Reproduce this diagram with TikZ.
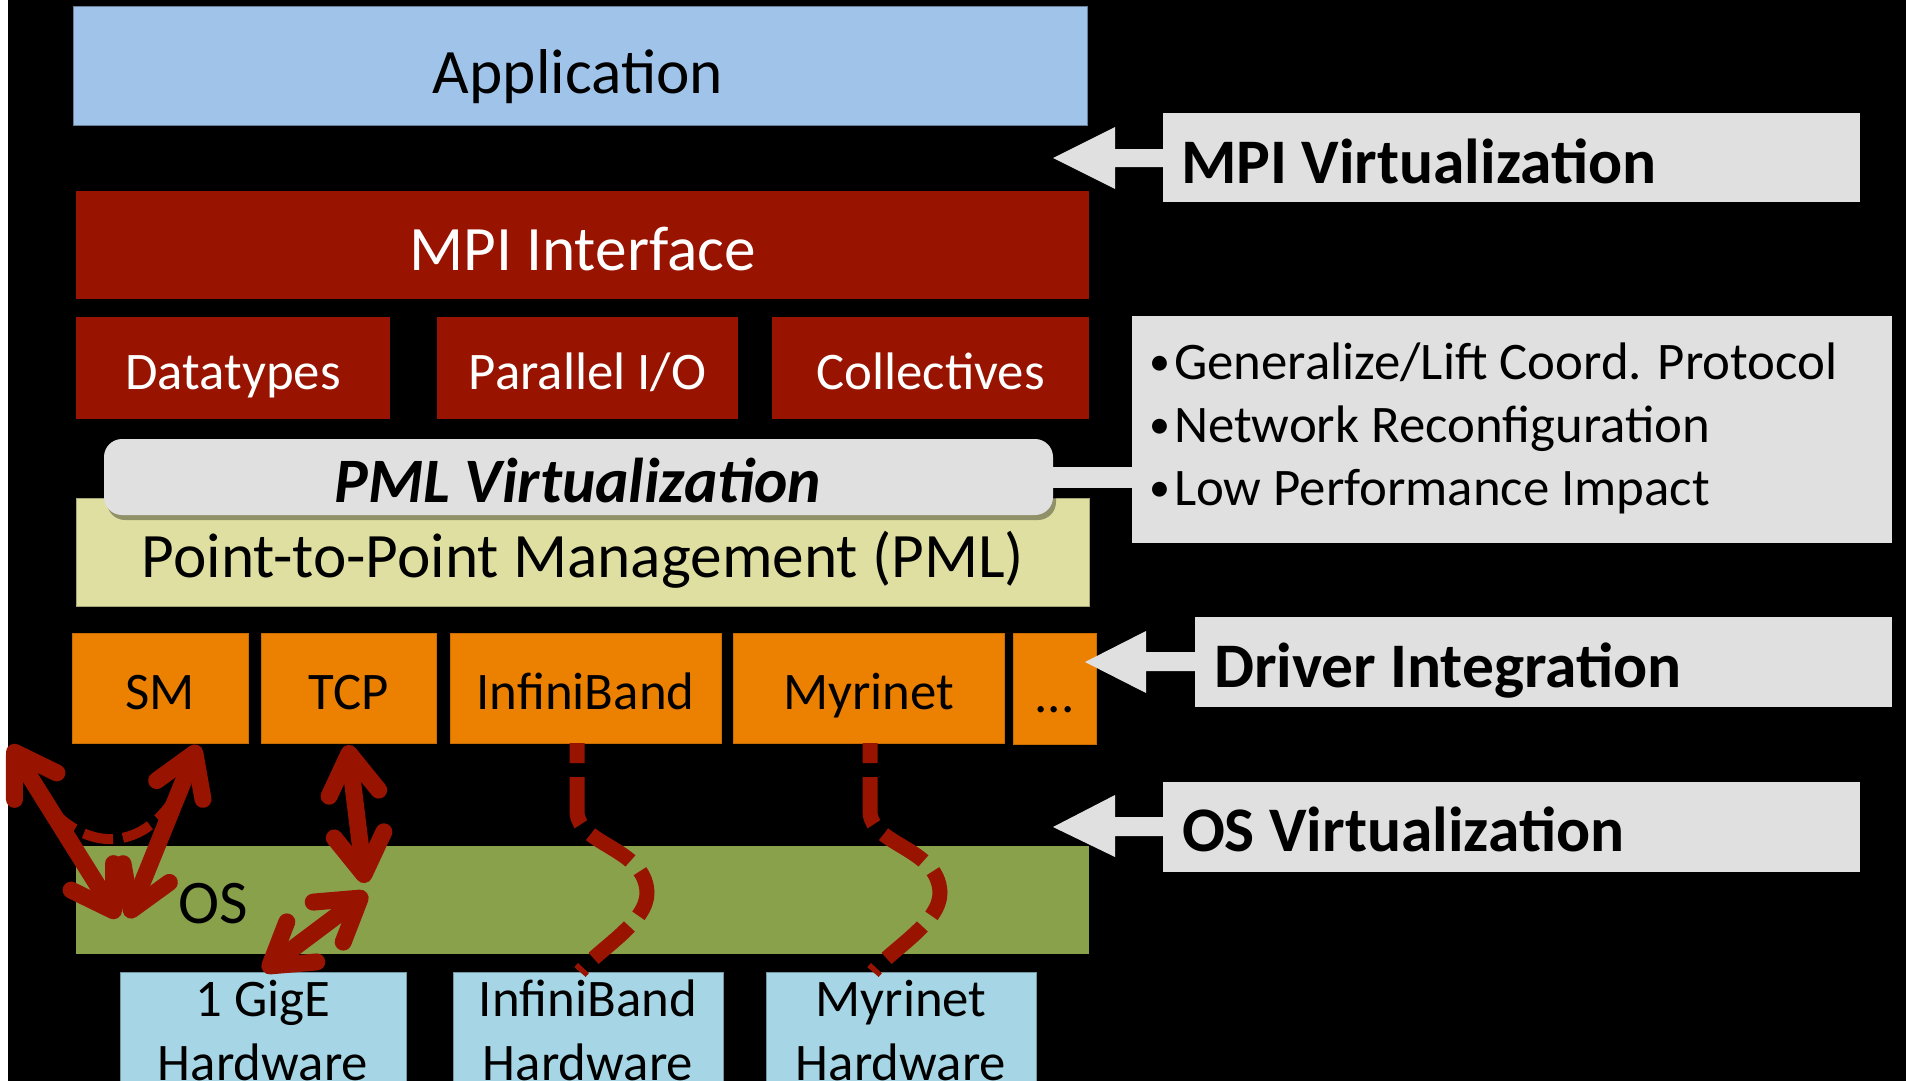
\documentclass[tikz,border=0pt]{standalone}
\usepackage{fontspec}
\setmainfont{Carlito}
\usetikzlibrary{arrows.meta}
\definecolor{appblue}{RGB}{159,195,233}
\definecolor{dkred}{RGB}{152,20,0}
\definecolor{pmlyel}{RGB}{222,223,160}
\definecolor{orng}{RGB}{236,128,0}
\definecolor{osgreen}{RGB}{138,161,76}
\definecolor{hwblue}{RGB}{166,214,229}
\definecolor{lgray}{RGB}{224,224,224}
\tikzset{
  boxn/.style={rectangle, inner sep=0pt, outer sep=0pt},
  lbl/.style={inner sep=0pt, outer sep=0pt, anchor=base},
  fbig/.style={font=\fontsize{63.3}{75}\selectfont},
  fmid/.style={font=\fontsize{52.8}{63}\selectfont},
  fbold/.style={font=\fontsize{63.5}{76}\selectfont\bfseries},
  fpv/.style={font=\fontsize{63.3}{75}\selectfont\bfseries\itshape},
  fbul/.style={font=\fontsize{42}{50}\selectfont},
  redbox/.style={boxn, fill=dkred},
  orbox/.style={boxn, fill=orng, draw=orng!85!black, line width=1pt},
  hwbox/.style={boxn, fill=hwblue, draw=hwblue!70!black, line width=1pt},
  graybox/.style={boxn, fill=lgray},
  dblarrow/.style={draw=dkred, line width=17pt, line cap=round,
    {Straight Barb[length=40pt,width=50pt,round]}-{Straight Barb[length=40pt,width=50pt,round]}},
  sdash/.style={draw=dkred, line width=15pt, dash pattern=on 48pt off 14pt, dash phase=28pt},
  udash/.style={draw=dkred, line width=10pt, dash pattern=on 30pt off 10pt},
  conn/.style={draw=lgray, line width=21pt}
}
\begin{document}
\begin{tikzpicture}[x=1pt,y=-1pt]
\useasboundingbox (0,0) rectangle (1906,1081);
\clip (0,0) rectangle (1906,1081);
\fill[black] (0,0) rectangle (1906,1081);
\fill[white] (0,0) rectangle (8,1081);

% main stack
\node[boxn, fill=appblue, draw=appblue!65!black, line width=1pt, minimum width=1014pt, minimum height=118pt] (app) at (580,66) {};
\node[redbox, minimum width=1013pt, minimum height=108pt] (mpi) at (582.5,245) {};
\node[redbox, minimum width=314pt, minimum height=102pt] (dt) at (233,368) {};
\node[redbox, minimum width=301pt, minimum height=102pt] (pio) at (587.5,368) {};
\node[redbox, minimum width=317pt, minimum height=102pt] (coll) at (930.5,368) {};
\node[boxn, fill=pmlyel, draw=pmlyel!75!black, line width=1pt, minimum width=1013pt, minimum height=108pt] (pml) at (582.5,552) {};

% pill
\fill[black, opacity=0.35, rounded corners=18pt] (107,444) rectangle (1056,520);
\node[boxn, fill=lgray, rounded corners=18pt, minimum width=949pt, minimum height=76pt] (pill) at (578.5,477) {};

% transports
\node[orbox, minimum width=176pt, minimum height=110pt] (sm) at (160,688) {};
\node[orbox, minimum width=175pt, minimum height=110pt] (tcp) at (348.5,688) {};
\node[orbox, minimum width=271pt, minimum height=110pt] (ib) at (585.5,688) {};
\node[orbox, minimum width=271pt, minimum height=110pt] (myr) at (868.5,688) {};
\node[orbox, minimum width=83pt, minimum height=111pt] (dots) at (1054.5,688.5) {};

% OS and hardware
\node[boxn, fill=osgreen, minimum width=1013pt, minimum height=108pt] (os) at (582.5,900) {};
\node[hwbox, minimum width=286pt, minimum height=128pt] (hwg) at (263,1036) {};
\node[hwbox, minimum width=270pt, minimum height=128pt] (hwib) at (588,1036) {};
\node[hwbox, minimum width=270pt, minimum height=128pt] (hwmy) at (901,1036) {};

% right callouts
\node[graybox, minimum width=697pt, minimum height=89pt] (cmpi) at (1511.5,157.5) {};
\node[graybox, minimum width=760pt, minimum height=227pt] (cbul) at (1512,429.5) {};
\node[graybox, minimum width=697pt, minimum height=90pt] (cdrv) at (1543.5,662) {};
\node[graybox, minimum width=697pt, minimum height=90pt] (cos) at (1511.5,827) {};

\fill[lgray] (1053,158) -- (1115,127) -- (1115,149) -- (cmpi.west |- 0,149) -- (cmpi.west |- 0,167) -- (1115,167) -- (1115,189) -- cycle;
\fill[lgray] (1085,662) -- (1146,631) -- (1146,652) -- (cdrv.west |- 0,652) -- (cdrv.west |- 0,671) -- (1146,671) -- (1146,693) -- cycle;
\fill[lgray] (1053,827) -- (1115,795) -- (1115,817) -- (cos.west |- 0,817) -- (cos.west |- 0,836) -- (1115,836) -- (1115,857) -- cycle;
\draw[conn] (pill.east) -- (pill.east -| cbul.west);

% texts
\node[lbl, fbig] (tapp) at (578,93) {Application};
\node[lbl, fbig, text=white] (tmpi) at (582.5,270) {MPI Interface};
\node[lbl, fmid, text=white] (tdt) at (233,389) {Datatypes};
\node[lbl, fmid, text=white] (tpio) at (587.5,389) {Parallel I/O};
\node[lbl, fmid, text=white] (tcoll) at (930.5,389) {Collectives};
\node[lbl, fpv] (tpv) at (578,502) {PML Virtualization};
\node[lbl, fbig] (tpml) at (583,577) {Point-to-Point Management (PML)};
\node[lbl, fmid] (tsm) at (160,709) {SM};
\node[lbl, fmid] (ttcp) at (348.5,709) {TCP};
\node[lbl, fmid] (tib) at (585.5,709) {InfiniBand};
\node[lbl, fmid] (tmyr) at (868.5,709) {Myrinet};
\node[lbl, fmid] (tdots) at (1054.5,712) {...};
\node[lbl, font=\fontsize{62}{74}\selectfont, anchor=base west] (tos) at (178,923) {OS};
\node[lbl, fmid] (thg1) at (263,1016) {1 GigE};
\node[lbl, fmid] (thg2) at (263,1080) {Hardware};
\node[lbl, fmid] (thi1) at (588,1016) {InfiniBand};
\node[lbl, fmid] (thi2) at (588,1080) {Hardware};
\node[lbl, fmid] (thm1) at (901,1016) {Myrinet};
\node[lbl, fmid] (thm2) at (901,1080) {Hardware};

\node[lbl, fbold, anchor=base west] (tcmpi) at (1181,183) {MPI Virtualization};
\node[lbl, fbold, anchor=base west] (tcdrv) at (1214,687) {Driver Integration};
\node[lbl, fbold, anchor=base west] (tcos) at (1182,851) {OS Virtualization};
\node[lbl, fbul, anchor=base west] (bd1) at (1149,375) {•};
\node[lbl, fmid, anchor=base west] (bt1) at (1174,379) {Generalize/Lift Coord. Protocol};
\node[lbl, fbul, anchor=base west] (bd2) at (1149,438) {•};
\node[lbl, fmid, anchor=base west] (bt2) at (1174,442) {Network Reconfiguration};
\node[lbl, fbul, anchor=base west] (bd3) at (1149,501) {•};
\node[lbl, fmid, anchor=base west] (bt3) at (1174,505) {Low Performance Impact};

% dashed driver paths
\coordinate (ibs) at (ib.south -| 577,0);
\coordinate (ibe) at (hwib.north -| 580,0);
\coordinate (mys) at (myr.south -| 870,0);
\coordinate (mye) at (hwmy.north -| 873,0);
\draw[sdash] (ibs) -- (577,812) .. controls (578,845) and (645,848) .. (647,892) .. controls (648,922) and (600,948) .. (ibe);
\draw[sdash] (mys) -- (870,812) .. controls (871,845) and (938,848) .. (940,892) .. controls (941,922) and (893,948) .. (mye);

% SM / TCP arrows
\coordinate (u1) at (28,778);
\coordinate (u2) at (187,775);
\draw[udash] (u1) .. controls (75,860) and (150,860) .. (u2);
\coordinate (aA1) at (10,745);
\coordinate (aA2) at (118,918);
\coordinate (aB1) at (198,745);
\coordinate (aB2) at (128,918);
\coordinate (aC1) at (348,745);
\coordinate (aC2) at (365,883);
\coordinate (aD1) at (367,893);
\coordinate (aD2) at (263,971);
\draw[dblarrow] (aA1) -- (aA2);
\draw[dblarrow] (aB1) -- (aB2);
\draw[dblarrow] (aC1) -- (aC2);
\draw[dblarrow] (aD1) -- (aD2);
\end{tikzpicture}
\end{document}
